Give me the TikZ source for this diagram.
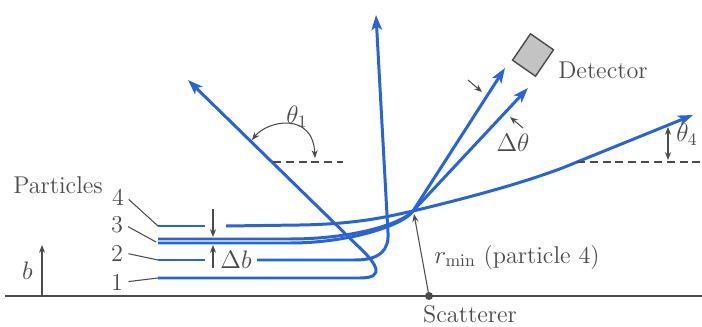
\documentclass[tikz,border=0pt]{standalone}
\usetikzlibrary{arrows.meta, positioning}
\definecolor{traj}{RGB}{40,100,215}
\definecolor{ink}{RGB}{75,75,75}
\definecolor{detgray}{RGB}{195,195,195}

\begin{document}
\begin{tikzpicture}[x=0.02cm, y=-0.02cm, font=\fontsize{13.8}{16}\selectfont,
	orbit/.style={draw=traj, line width=1.7pt},
	tip/.style={-{Stealth[length=8.5pt, width=6pt, inset=2pt]}},
	wire/.style={draw=ink, line width=0.6pt},
	gtip/.style={-{Stealth[length=4.5pt, width=3.5pt]}},
	gtips/.style={{Stealth[length=4.5pt, width=3.5pt]}-{Stealth[length=4.5pt, width=3.5pt]}},
	ref/.style={draw=ink, line width=0.7pt, dash pattern={on 4.5pt off 2.8pt}},
	lab/.style={text=ink, inner sep=1pt}]
	\useasboundingbox (0,0) rectangle (702,327);
	% Points:
	\coordinate (focus) at (413,211);
	\coordinate (scat) at (429,296);
	\coordinate (s4) at (158,226);
	\coordinate (s3a) at (158,239);
	\coordinate (s3b) at (158,243);
	\coordinate (s2) at (158,260);
	\coordinate (s1) at (158,278);
	\coordinate (e4) at (693,115);
	\coordinate (e3a) at (528,88);
	\coordinate (e3b) at (505,68);
	\coordinate (e2) at (376,15);
	\coordinate (e1) at (188,80);
	% Baseline and scatterer:
	\draw[ink, line width=0.9pt] (5,296) -- (702,296);
	\fill[ink] (scat) circle (4);
	\node[lab] (scatterer) at (470,314) {Scatterer};
	\draw[wire, gtip] (42,296) -- (42,245) node[lab, midway, left=4pt] (b) {$b$};
	% Trajectories:
	\draw[orbit] (s4) -- (205,226);
	\draw[orbit, tip] (226,226) -- (300,225) .. controls (360,224) and (390,216) .. (focus) .. controls (480,195) and (540,178) .. (577,162) -- (e4);
	\draw[orbit, tip] (s3a) -- (290,239) .. controls (350,239) and (400,225) .. (focus) -- (e3a);
	\draw[orbit, tip] (s3b) -- (290,243) .. controls (350,243) and (404,225) .. (focus) -- (e3b);
	\draw[orbit] (s2) -- (205,260);
	\draw[orbit, tip] (257,260) -- (355,260) .. controls (380,260) and (389,250) .. (388,233) -- (e2);
	\draw[orbit, tip] (s1) -- (360,278) .. controls (387,278) and (374,262) .. (364,252) -- (e1);
	% Labels of the particles:
	\node[lab] (particles) at (58,185) {Particles};
	\node[lab] (lab4) at (118,197) {4};
	\node[lab] (lab3) at (117,225) {3};
	\node[lab] (lab2) at (117,253) {2};
	\node[lab] (lab1) at (117,282) {1};
	\draw[wire, shorten <=2pt] (lab4.east) -- (s4);
	\draw[wire, shorten <=2pt] (lab3.east) -- (156,242);
	\draw[wire, shorten <=2pt] (lab2.east) -- (s2);
	\draw[wire, shorten <=2pt] (lab1.east) -- (s1);
	% Delta b:
	\draw[wire, gtip] (213,209) -- (213,237);
	\draw[wire, gtip] (213,268) -- (213,245);
	\node[lab] (db) at (236,260) {$\Delta b$};
	% r min:
	\draw[wire, gtip] (scat) -- (414,214);
	\node[lab] (rmin) at (517,257) {$r_{\mathrm{min}}$ (particle 4)};
	% Angles:
	\draw[ref] (273,162) -- (343,162);
	\draw[wire, gtips] (252,140) .. controls (268,120) and (313,112) .. (315,158);
	\node[lab] (th1) at (297,117) {$\theta_1$};
	\draw[ref] (577,162) -- (702,162);
	\draw[wire, gtips] (668,127) -- (668,160);
	\node[lab] (th4) at (687,135) {$\theta_4$};
	\draw[wire, gtip] (468,80) -- (482,92);
	\draw[wire, gtip] (523,128) -- (510,117);
	\node[lab] (dth) at (513,143) {$\Delta\theta$};
	% Detector:
	\filldraw[fill=detgray, draw=ink, line width=0.8pt] (530.5,33.8) -- (553.5,49.8) -- (535.5,76.2) -- (512.5,60.2) -- cycle;
	\node[lab] (detector) at (603,70) {Detector};
\end{tikzpicture}
\end{document}
